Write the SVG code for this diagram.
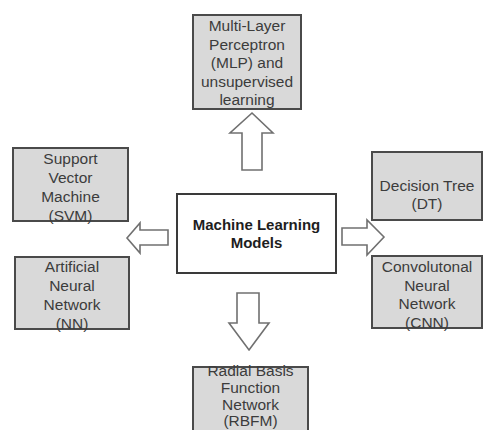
<svg xmlns="http://www.w3.org/2000/svg" width="484" height="430" viewBox="0 0 484 430">
  <style>
    .box { fill: #d9d9d9; stroke: #4a4a4a; stroke-width: 2; }
    .core { fill: #ffffff; stroke: #3a3a3a; stroke-width: 2; }
    .label { font-family: "Liberation Sans", Arial, sans-serif; font-size: 15.5px; fill: #3c3c3c; text-anchor: middle; }
    .title { font-family: "Liberation Sans", Arial, sans-serif; font-size: 15px; font-weight: bold; fill: #1e1e1e; text-anchor: middle; }
    .arrow { fill: #ffffff; stroke: #707070; stroke-width: 1.6; stroke-linejoin: miter; }
  </style>
  <rect width="484" height="430" fill="#ffffff"/>

  <!-- block arrows from the central node -->
  <g id="connectors">
    <polygon class="arrow" points="252,113 273,133 262,133 262,170 242,170 242,133 230,133"/>
    <polygon class="arrow" points="127,238 140,223 140,230 168,230 168,245 140,245 140,253"/>
    <polygon class="arrow" points="384,237 367,220 367,228 342,228 342,245 367,245 367,255"/>
    <polygon class="arrow" points="249,350 269,323 259,323 259,293 237,293 237,323 229,323"/>
  </g>

  <g id="ml-models">
    <rect class="core" x="177" y="194" width="159" height="79"/>
    <text class="title" x="256.5" y="230">Machine Learning</text>
    <text class="title" x="256.5" y="248">Models</text>
  </g>

  <g id="mlp">
    <rect class="box" x="193" y="15" width="108" height="94"/>
    <text class="label" x="247" y="31">Multi-Layer</text>
    <text class="label" x="247" y="49.5">Perceptron</text>
    <text class="label" x="247" y="68">(MLP) and</text>
    <text class="label" x="247" y="86.5">unsupervised</text>
    <text class="label" x="247" y="105">learning</text>
  </g>

  <g id="svm">
    <rect class="box" x="13" y="148" width="115" height="73"/>
    <text class="label" x="70.5" y="164">Support</text>
    <text class="label" x="70.5" y="183">Vector</text>
    <text class="label" x="70.5" y="202">Machine</text>
    <text class="label" x="70.5" y="221">(SVM)</text>
  </g>

  <g id="nn">
    <rect class="box" x="15" y="257" width="114" height="72"/>
    <text class="label" x="72" y="272">Artificial</text>
    <text class="label" x="72" y="291">Neural</text>
    <text class="label" x="72" y="310">Network</text>
    <text class="label" x="72" y="329">(NN)</text>
  </g>

  <g id="dt">
    <rect class="box" x="372" y="152" width="110" height="68"/>
    <text class="label" x="427" y="190.5">Decision Tree</text>
    <text class="label" x="427" y="209">(DT)</text>
  </g>

  <g id="cnn">
    <rect class="box" x="372" y="256" width="110" height="72"/>
    <text class="label" x="427" y="272">Convolutonal</text>
    <text class="label" x="427" y="291">Neural</text>
    <text class="label" x="427" y="309">Network</text>
    <text class="label" x="427" y="328">(CNN)</text>
  </g>

  <g id="rbfn">
    <rect class="box" x="193" y="367" width="115" height="70"/>
    <text class="label" x="250.5" y="376">Radial Basis</text>
    <text class="label" x="250.5" y="393">Function</text>
    <text class="label" x="250.5" y="410">Network</text>
    <text class="label" x="250.5" y="426">(RBFM)</text>
  </g>
</svg>
